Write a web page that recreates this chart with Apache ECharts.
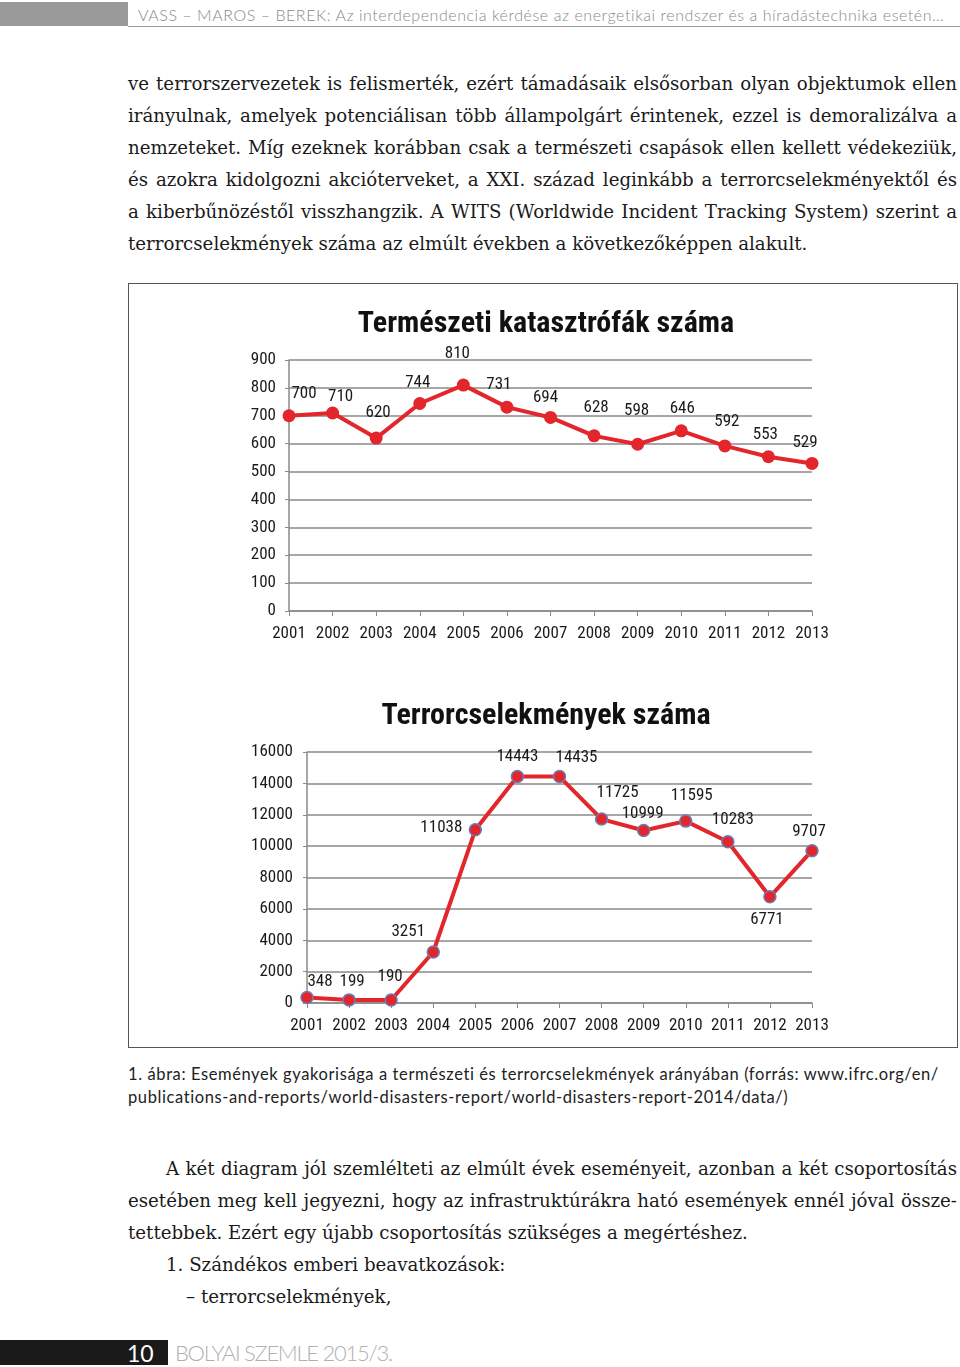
<!DOCTYPE html>
<html>
<head>
<meta charset="utf-8">
<script src="https://cdn.jsdelivr.net/npm/echarts@6/dist/echarts.min.js"></script>
<style>
  html, body { margin: 0; padding: 0; background: #fff; }
  body { width: 960px; height: 1367px; position: relative; overflow: hidden; }
  .abs { position: absolute; }
  .hdrblock { left: 0; width: 128px; height: 24px; background: #9a9a9a; top: 2px; }
  .hdrline { left: 128px; top: 26px; width: 832px; height: 1px; background: #9a9a9a; }
  .hdrtext { left: 138px; top: 5px; font-family: Lato, "Open Sans", sans-serif; font-size: 16px; letter-spacing: 0.55px; color: #8a8a8a; white-space: nowrap; font-weight: 300; }
  .line { position: absolute; left: 128px; width: 829px; font-family: "DejaVu Serif", serif; font-size: 18.2px; color: #1a1a1a; white-space: nowrap; line-height: 24px; }
  .j { text-align: justify; text-align-last: justify; white-space: normal; }
  .box { left: 128px; top: 283px; width: 830px; height: 765px; border: 1.5px solid #555; box-sizing: border-box; }
  #chart { position: absolute; left: 129px; top: 284px; width: 828px; height: 763px; }
  .cap { position: absolute; left: 128px; font-family: Lato, "Open Sans", sans-serif; font-size: 16.5px; letter-spacing: 0.6px; color: #222; white-space: nowrap; }
  .footbar { left: 0; top: 1340px; width: 168px; height: 25px; background: #1a1a1a; }
  .footnum { left: 127px; top: 1339px; font-family: Lato, sans-serif; font-size: 23px; color: #fff; }
  .foottxt { left: 175px; top: 1339px; font-family: Lato, sans-serif; font-size: 22px; color: #b0b0b0; font-weight: 300; letter-spacing: -1.3px; }
</style>
</head>
<body>
<div class="abs hdrblock"></div>
<div class="abs hdrline"></div>
<div class="abs hdrtext">VASS – MAROS – BEREK: Az interdependencia kérdése az energetikai rendszer és a híradástechnika esetén…</div>

<div class="line j" style="top:72px">ve terrorszervezetek is felismerték, ezért támadásaik elsősorban olyan objektumok ellen</div>
<div class="line j" style="top:104px">irányulnak, amelyek potenciálisan több állampolgárt érintenek, ezzel is demoralizálva a</div>
<div class="line j" style="top:136px">nemzeteket. Míg ezeknek korábban csak a természeti csapások ellen kellett védekeziük,</div>
<div class="line j" style="top:168px">és azokra kidolgozni akcióterveket, a XXI. század leginkább a terrorcselekményektől és</div>
<div class="line j" style="top:200px">a kiberbűnözéstől visszhangzik. A WITS (Worldwide Incident Tracking System) szerint a</div>
<div class="line" style="top:232px">terrorcselekmények száma az elmúlt években a következőképpen alakult.</div>

<div class="abs box"></div>
<div id="chart"></div>

<div class="cap" style="top:1064px">1. ábra: Események gyakorisága a természeti és terrorcselekmények arányában (forrás: www.ifrc.org/en/</div>
<div class="cap" style="top:1087px">publications-and-reports/world-disasters-report/world-disasters-report-2014/data/)</div>

<div class="line j" style="top:1157px; left:166px; width:791px">A két diagram jól szemlélteti az elmúlt évek eseményeit, azonban a két csoportosítás</div>
<div class="line j" style="top:1189px">esetében meg kell jegyezni, hogy az infrastruktúrákra ható események ennél jóval össze-</div>
<div class="line" style="top:1221px">tettebbek. Ezért egy újabb csoportosítás szükséges a megértéshez.</div>
<div class="line" style="top:1253px; left:166px">1. Szándékos emberi beavatkozások:</div>
<div class="line" style="top:1285px; left:186px">– terrorcselekmények,</div>

<div class="abs footbar"></div>
<div class="abs footnum">10</div>
<div class="abs foottxt">BOLYAI SZEMLE 2015/3.</div>

<script>
// ---- data ----
const years = ['2001','2002','2003','2004','2005','2006','2007','2008','2009','2010','2011','2012','2013'];
const naturalDisasters = [700, 710, 620, 744, 810, 731, 694, 628, 598, 646, 592, 553, 529];
const terrorActs = [348, 199, 190, 3251, 11038, 14443, 14435, 11725, 10999, 11595, 10283, 6771, 9707];
const title1 = 'Természeti katasztrófák száma';
const title2 = 'Terrorcselekmények száma';

// ---- label placement tweaks (styling only) ----
const shift1 = [[15,-2],[8,4],[2,-5],[-2,-1],[-6,-11],[-8,-2],[-5,0],[2,-8],[-1,-13],[1,-2],[2,-4],[-3,-2],[-7,-1]];
const shift2 = [[13,4],[3,2],[-1,-3],[-25,0],[-34,18],[0,1],[17,1],[16,-6],[-1,4],[6,-5],[5,-2],[-3,43],[-3,1]];

const FONT = '"Liberation Sans Narrow", "Roboto Condensed", "Liberation Sans", sans-serif';
const RED = '#e3262b';

function makeData(vals, shifts) {
  return vals.map((v, i) => ({ value: v, label: { offset: shifts[i] } }));
}

const chart = echarts.init(document.getElementById('chart'), null, { renderer: 'canvas' });
const axisLabelStyle = { color: '#1a1a1a', fontFamily: FONT, fontSize: 17 };
const gridLine = { show: true, lineStyle: { color: '#8a8a8a', width: 1.5 } };
const axisLine = { show: true, lineStyle: { color: '#8a8a8a', width: 1.5 } };
const plain = v => String(v);

chart.setOption({
  animation: false,
  title: [
    { text: title1, left: 412, top: 20, textAlign: 'center',
      textStyle: { fontFamily: FONT, fontWeight: 'bold', fontSize: 30, color: '#111' } },
    { text: title2, left: 412, top: 412, textAlign: 'center',
      textStyle: { fontFamily: FONT, fontWeight: 'bold', fontSize: 30, color: '#111' } }
  ],
  grid: [
    { left: 160, top: 76, width: 523, height: 251 },
    { left: 178, top: 468, width: 505, height: 251 }
  ],
  xAxis: [
    { type: 'category', gridIndex: 0, data: years, boundaryGap: false,
      axisLine, axisTick: { show: true, length: 5, lineStyle: { color: '#8a8a8a' } },
      axisLabel: { ...axisLabelStyle, margin: 14, interval: 0 }, splitLine: { show: false } },
    { type: 'category', gridIndex: 1, data: years, boundaryGap: false,
      axisLine, axisTick: { show: true, length: 5, lineStyle: { color: '#8a8a8a' } },
      axisLabel: { ...axisLabelStyle, margin: 14, interval: 0 }, splitLine: { show: false } }
  ],
  yAxis: [
    { type: 'value', gridIndex: 0, min: 0, max: 900, interval: 100,
      axisLine, axisTick: { show: true, length: 4, lineStyle: { color: '#8a8a8a' } },
      axisLabel: { ...axisLabelStyle, margin: 13, formatter: plain }, splitLine: gridLine },
    { type: 'value', gridIndex: 1, min: 0, max: 16000, interval: 2000,
      axisLine, axisTick: { show: true, length: 4, lineStyle: { color: '#8a8a8a' } },
      axisLabel: { ...axisLabelStyle, margin: 14, formatter: plain }, splitLine: gridLine }
  ],
  series: [
    { type: 'line', xAxisIndex: 0, yAxisIndex: 0, data: makeData(naturalDisasters, shift1),
      symbol: 'circle', symbolSize: 13,
      lineStyle: { color: RED, width: 4 }, itemStyle: { color: RED },
      label: { show: true, position: 'top', distance: 5, color: '#1a1a1a', fontFamily: FONT, fontSize: 17 } },
    { type: 'line', xAxisIndex: 1, yAxisIndex: 1, data: makeData(terrorActs, shift2),
      symbol: 'circle', symbolSize: 12,
      lineStyle: { color: RED, width: 4 }, itemStyle: { color: RED, borderColor: '#6a7fb5', borderWidth: 1.5 },
      label: { show: true, position: 'top', distance: 5, color: '#1a1a1a', fontFamily: FONT, fontSize: 17 } }
  ]
});
</script>
</body>
</html>
